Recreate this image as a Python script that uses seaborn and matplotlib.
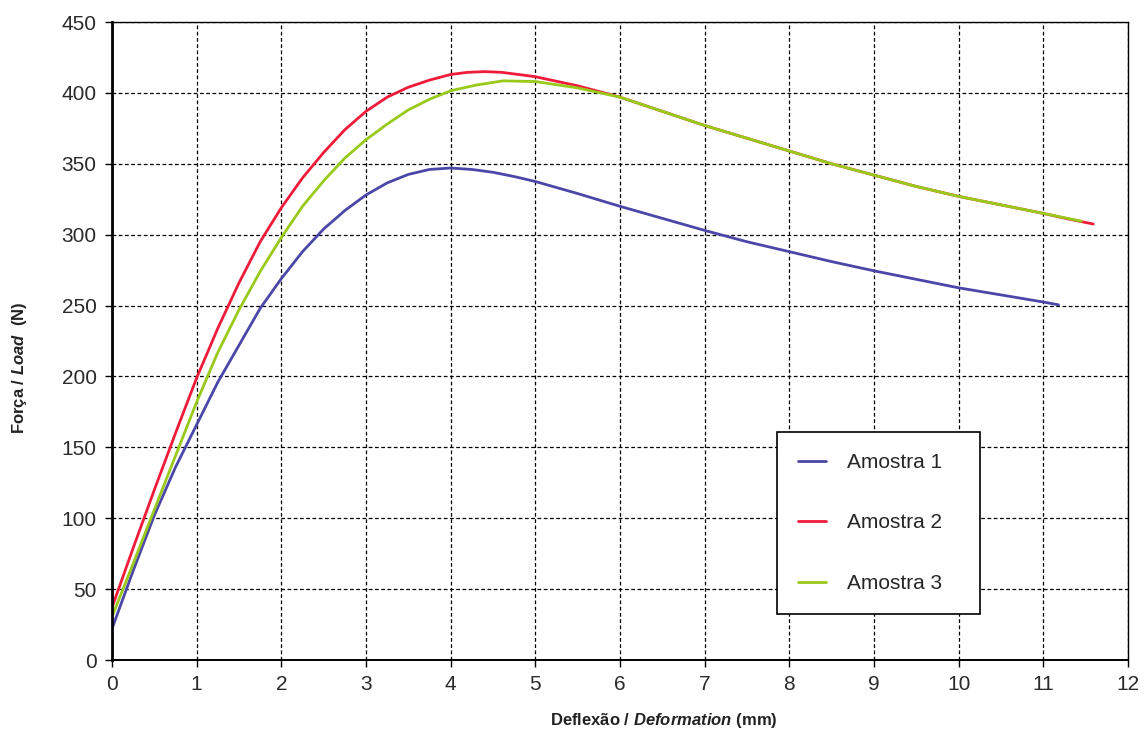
import numpy as np
import pandas as pd
import matplotlib
matplotlib.use("Agg")
import matplotlib.pyplot as plt
import seaborn as sns

# Data
x1 = [0, 0.25, 0.5, 0.75, 1.0, 1.25, 1.5, 1.75, 2.0, 2.25, 2.5, 2.75,
      3.0, 3.25, 3.5, 3.75, 4.0, 4.25, 4.5, 4.75, 5.0, 5.5, 6.0, 6.5, 7.0, 7.5, 8.0,
      8.5, 9.0, 9.5, 10.0, 10.5, 11.0, 11.18]
y1 = [22, 63, 102, 136, 166, 196, 222, 248, 269, 288, 304, 317,
      328, 336.5, 342.5, 346, 347, 346, 344, 341, 337.5, 329, 320, 311.5, 303, 295, 288,
      281, 274.5, 268.5, 262.5, 257.5, 252.5, 250.5]

x2 = [0, 0.25, 0.5, 0.75, 1.0, 1.25, 1.5, 1.75, 2.0, 2.25, 2.5, 2.75,
      3.0, 3.25, 3.5, 3.75, 4.0, 4.2, 4.4, 4.6, 4.8, 5.0, 5.5, 6.0, 6.5, 7.0,
      7.5, 8.0, 8.5, 9.0, 9.5, 10.0, 10.5, 11.0, 11.3, 11.59]
y2 = [37, 79, 120, 160, 199, 234, 266, 295, 319, 340, 358, 374,
      387, 397, 404, 409, 413, 414.5, 415, 414.5, 413, 411.4, 405, 397, 387, 377,
      368, 359, 350, 342, 334, 327, 321, 315, 311, 307.5]

x3 = [0, 0.25, 0.5, 0.75, 1.0, 1.25, 1.5, 1.75, 2.0, 2.25, 2.5, 2.75,
      3.0, 3.25, 3.5, 3.75, 4.0, 4.3, 4.62, 5.0, 5.5, 6.0, 6.5, 7.0, 7.5, 8.0,
      8.5, 9.0, 9.5, 10.0, 10.5, 11.0, 11.45]
y3 = [30.5, 68, 106, 144, 182, 217, 247, 274, 298, 320, 338, 354,
      367, 378, 388, 395.5, 401.5, 405.5, 408.5, 408, 403.5, 397, 387, 377, 368, 359,
      350, 342, 334, 327, 321, 315, 309.5]

labels = ["Amostra 1", "Amostra 2", "Amostra 3"]
colors = ["#4b47a8", "#ee1c3a", "#99c91a"]

df = pd.concat([
    pd.DataFrame({"x": x1, "y": y1, "s": labels[0]}),
    pd.DataFrame({"x": x2, "y": y2, "s": labels[1]}),
    pd.DataFrame({"x": x3, "y": y3, "s": labels[2]}),
])

sns.set_theme(style="white")
plt.rcParams["font.family"] = ["Liberation Sans", "DejaVu Sans"]
plt.rcParams["mathtext.fontset"] = "custom"
plt.rcParams["mathtext.it"] = "Liberation Sans:italic:bold"

fig = plt.figure(figsize=(11.47, 7.31), dpi=100)
ax = fig.add_axes([112/1147, 71/731, (1128-112)/1147, (660-22)/731])

for lab, col in zip(labels, colors):
    sub = df[df["s"] == lab]
    sns.lineplot(data=sub, x="x", y="y", ax=ax, color=col, lw=2, label=lab,
                 estimator=None, sort=False)

ax.set_xlim(0, 12)
ax.set_ylim(0, 450)
ax.set_xticks(range(0, 13))
ax.set_yticks(range(0, 451, 50))
ax.grid(True, color="black", linestyle=(0, (3, 2)), linewidth=0.9)
ax.set_axisbelow(True)

for side in ["top", "right"]:
    ax.spines[side].set_color("black")
    ax.spines[side].set_linewidth(1.0)
ax.spines["left"].set_color("black")
ax.spines["left"].set_linewidth(2.0)
ax.spines["bottom"].set_color("black")
ax.spines["bottom"].set_linewidth(1.4)

ax.tick_params(axis="both", direction="out", length=5, width=1, color="black",
               labelsize=15, labelcolor="#2a2a2a", pad=6, bottom=True, left=True)

ax.set_xlabel(r"Deflexão / $\mathit{Deformation}$ (mm)", fontsize=12, fontweight="bold",
              color="#222222")
ax.set_ylabel(r"Força / $\mathit{Load}$  (N)", fontsize=12, fontweight="bold",
              color="#222222")
ax.xaxis.set_label_coords((664-112)/1016, (660-711)/638)
ax.yaxis.set_label_coords((29-112)/1016, (660-367.5)/638)

x0 = (777-112)/1016
y0 = (660-617)/638
w = (980-777)/1016
h = (617-432)/638
leg = ax.legend(loc="upper left", bbox_to_anchor=(x0, y0, w, h), mode="expand",
                frameon=True, fancybox=False, edgecolor="black", fontsize=15,
                labelspacing=2.0, handlelength=1.35, handletextpad=1.0,
                borderpad=1.0, borderaxespad=0, framealpha=1)
leg.get_frame().set_linewidth(1.2)
for line in leg.get_lines():
    line.set_linewidth(2)

fig.savefig("out.png", dpi=100)
